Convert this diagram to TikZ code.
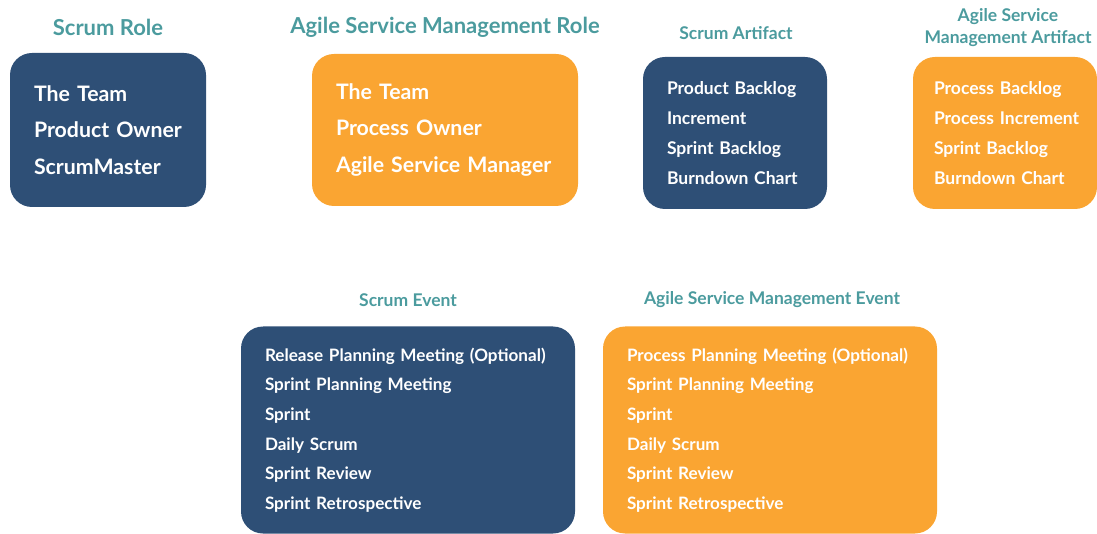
\documentclass[tikz,border=0pt]{standalone}
\usepackage{fontspec}
\setmainfont{Lato}
\usepackage{tikz}
\definecolor{scrumblue}{RGB}{46,79,118}
\definecolor{asmorange}{RGB}{250,165,50}
\definecolor{headteal}{RGB}{75,155,158}
\tikzstyle{head} = [text=headteal, align=center, inner sep=0pt]
\tikzstyle{card} = [rounded corners=22pt, text=white, align=left, inner xsep=24pt, inner ysep=0pt]
\tikzstyle{scrum} = [card, fill=scrumblue]
\tikzstyle{asm} = [card, fill=asmorange]
\tikzstyle{big} = [font={\bfseries\fontsize{21.3}{36.7}\selectfont}]
\tikzstyle{small} = [font={\bfseries\fontsize{17.5}{30}\selectfont}]
\tikzstyle{event} = [font={\bfseries\fontsize{17.1}{29.6}\selectfont}]
\tikzstyle{bighead} = [head, font={\bfseries\fontsize{22}{24}\selectfont}]
\tikzstyle{smallhead} = [head, font={\bfseries\fontsize{17.5}{22}\selectfont}]

\begin{document}
\begin{tikzpicture}[x=1pt,y=-1pt]
  \useasboundingbox (0,0) rectangle (1097,534);
  % roles
  \node[bighead](rolehead) at (108,27){Scrum Role};
  \node[bighead](asmrolehead) at (445,27){Agile Service Management Role};
  \node[scrum,big,text width=148pt,minimum height=154pt](role) at (108,130){The Team\\Product Owner\\ScrumMaster};
  \node[asm,big,text width=218pt,minimum height=152pt](asmrole) at (445,130){The Team\\Process Owner\\Agile Service Manager};
  % artifacts
  \node[smallhead](arthead) at (736,33){Scrum Artifact};
  \node[smallhead](asmarthead) at (1008,28){Agile Service\\Management Artifact};
  \node[scrum,small,text width=136pt,minimum height=152pt](art) at (735,133){Product Backlog\\Increment\\Sprint Backlog\\Burndown Chart};
  \node[asm,small,inner xsep=21pt,text width=142pt,minimum height=152pt](asmart) at (1005,133){Process Backlog\\\mbox{Process Increment}\\Sprint Backlog\\Burndown Chart};
  % events
  \node[smallhead](evhead) at (408,300){Scrum Event};
  \node[smallhead](asmevhead) at (772,300){Agile Service Management Event};
  \node[scrum,event,text width=286pt,minimum height=207pt](ev) at (408,430){Release Planning Meeting (Optional)\\Sprint Planning Meeting\\Sprint\\Daily Scrum\\Sprint Review\\Sprint Retrospective};
  \node[asm,event,text width=286pt,minimum height=207pt](asmev) at (770,430){Process Planning Meeting (Optional)\\Sprint Planning Meeting\\Sprint\\Daily Scrum\\Sprint Review\\Sprint Retrospective};
\end{tikzpicture}
\end{document}
